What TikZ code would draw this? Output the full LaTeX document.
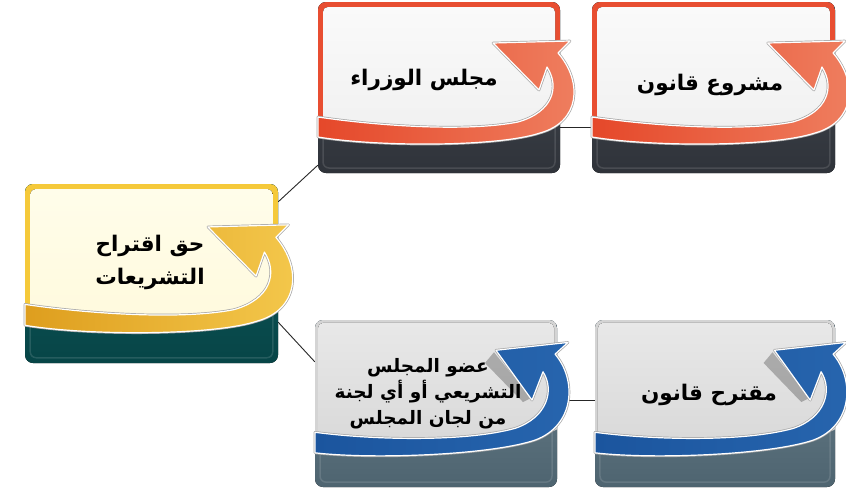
\documentclass[tikz,border=0pt]{standalone}
\usepackage{fontspec}
\newfontfamily\arabicfont[Script=Arabic]{DejaVu Sans}
\TeXXeTstate=1
\tikzset{
  conn/.style={draw=black!85, line width=0.9pt},
  lbl/.style={font=\arabicfont\bfseries\fontsize{21.5}{33}\selectfont, align=center, text=black, inner sep=0pt},
  boxn/.style={rectangle, draw=none, inner sep=0pt, minimum width=#1},
}
\def\toparrow{(0,115) .. controls (60,124) and (150,130) .. (200,120) .. controls (235,110) and (242,85) .. (229,65) -- (221,88) -- (175,41) -- (252,39) -- (240,51) .. controls (265,80) and (262,120) .. (222,131) .. controls (180,145) and (60,145) .. (0,135) -- cycle}
\def\topupper{(0,0) -- (242,0) -- (242,120) -- (222,131) .. controls (180,145) and (60,145) .. (0,135) -- cycle}
\def\botarrow{(0,115) .. controls (60,123) and (150,125) .. (200,111) .. controls (232,100) and (240,72) .. (228,53) -- (217,82) -- (181,31) -- (253,23) -- (240,35) .. controls (262,61) and (260,108) .. (220,123) .. controls (176,138) and (60,143) .. (0,136) -- cycle}
\def\botupper{(0,0) -- (242,0) -- (242,112) -- (220,123) .. controls (176,138) and (60,143) .. (0,136) -- cycle}
\def\botshadow{\fill[black!75, opacity=0.35] (179,33) -- (216,80) -- (208,84) -- (170,44) -- cycle;}
\newcommand\drawbox[6]{%
\begin{scope}[shift={(#1,#2)}, xscale=#3/242, yscale=#4/171]
  \fill[top color=dk1, bottom color=dk2, rounded corners=8pt] (0,0) rectangle (242,171);
  \draw[white, opacity=0.12, line width=1.5pt, rounded corners=6pt] (5,5) rectangle (237,166);
  \begin{scope}
    \clip[rounded corners=8pt] (0,0) rectangle (242,171);
    \clip \upperpath;
    \fill[frm] (0,0) rectangle (242,171);
    \fill[top color=lt1, bottom color=lt2, rounded corners=5pt] (#5,#5) rectangle (242-#5,171-#5);
  \end{scope}
  #6
  \path[draw=black!35, line width=2.6pt, line join=round] \arrowpath;
  \path[left color=ar1, right color=ar2, draw=white, line width=1.2pt, line join=round] \arrowpath;
\end{scope}}
\begin{document}
\begin{tikzpicture}[x=1pt, y=-1pt]
\useasboundingbox (0,0) rectangle (846,493);
% named box nodes
\node[boxn=253pt, minimum height=179pt] (L) at (151.5,273.5) {};
\node[boxn=242pt, minimum height=171pt] (TM) at (439,87.5) {};
\node[boxn=243pt, minimum height=171pt] (TR) at (713.5,87.5) {};
\node[boxn=242pt, minimum height=167pt] (BM) at (436,403.5) {};
\node[boxn=240pt, minimum height=167pt] (BR) at (715,403.5) {};
% connectors
\draw[conn] ([yshift=-18pt]L.north east) -- ([yshift=8pt]TM.south west);
\draw[conn] ([yshift=41pt]L.south east) -- ([yshift=-42pt]BM.north west);
\draw[conn] ([yshift=-40pt]TM.east) -- ([yshift=-40pt]TR.west);
\draw[conn] ([yshift=3pt]BM.east) -- ([yshift=3pt]BR.west);
% left box (yellow)
\definecolor{frm}{HTML}{F5C93A}\definecolor{lt1}{HTML}{FFFDEA}\definecolor{lt2}{HTML}{FFF9DA}
\definecolor{dk1}{HTML}{0E5C5E}\definecolor{dk2}{HTML}{074547}
\definecolor{ar1}{HTML}{DE9E1E}\definecolor{ar2}{HTML}{F4C84C}
\let\arrowpath\toparrow \let\upperpath\topupper
\drawbox{25}{184}{253}{179}{5}{}
% top boxes (red)
\definecolor{frm}{HTML}{E84E31}\definecolor{lt1}{HTML}{FAFAFA}\definecolor{lt2}{HTML}{EEEEEE}
\definecolor{dk1}{HTML}{474C54}\definecolor{dk2}{HTML}{2F333A}
\definecolor{ar1}{HTML}{E5482A}\definecolor{ar2}{HTML}{EF7F60}
\drawbox{318}{2}{242}{171}{5}{}
\drawbox{592}{2}{243}{171}{5}{}
% bottom boxes (blue)
\definecolor{frm}{HTML}{D4D4D4}\definecolor{lt1}{HTML}{E8E8E8}\definecolor{lt2}{HTML}{D4D4D4}
\definecolor{dk1}{HTML}{6D838F}\definecolor{dk2}{HTML}{4E6470}
\definecolor{ar1}{HTML}{1B559E}\definecolor{ar2}{HTML}{2765AE}
\let\arrowpath\botarrow \let\upperpath\botupper
\drawbox{315}{320}{242}{167}{3}{\botshadow}
\drawbox{595}{320}{240}{167}{3}{\botshadow}
% labels
\node[lbl] (tL) at (150,262) {\beginR حق اقتراح\endR\\\beginR التشريعات\endR};
\node[lbl] (tTM) at (424,80) {\beginR مجلس الوزراء\endR};
\node[lbl] (tTR) at (710,85) {\beginR مشروع قانون\endR};
\node[lbl, font=\arabicfont\bfseries\fontsize{18.5}{26}\selectfont] (tBM) at (428,394) {\beginR عضو المجلس\endR\\\beginR التشريعي أو أي لجنة\endR\\\beginR من لجان المجلس\endR};
\node[lbl] (tBR) at (709,395) {\beginR مقترح قانون\endR};
\end{tikzpicture}
\end{document}
